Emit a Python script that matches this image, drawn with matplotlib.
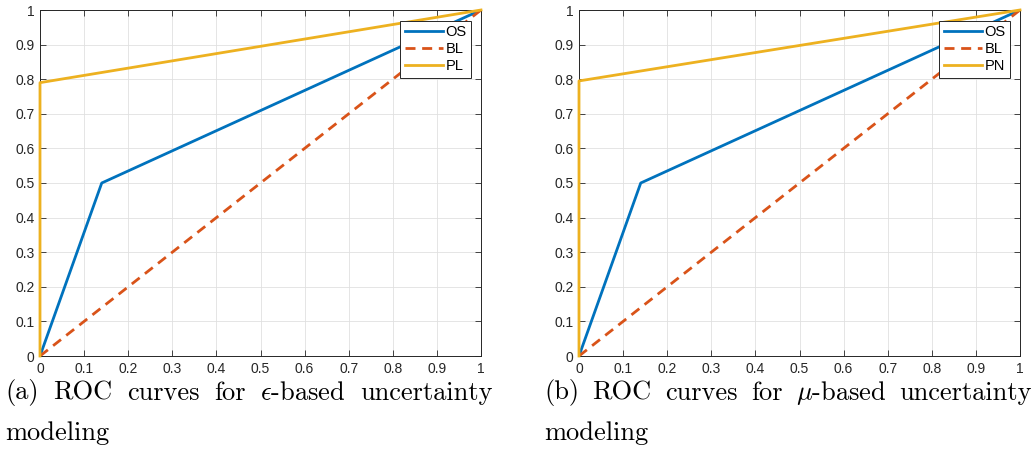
import matplotlib
matplotlib.use("Agg")
import matplotlib.pyplot as plt
import numpy as np

# ROC points
os_fpr = [0, 0.14, 1]
os_tpr = [0, 0.50, 1]
bl_fpr = [0, 1]
bl_tpr = [0, 1]
pl_fpr = [0, 0, 1]
pl_tpr = [0, 0.79, 1]
pn_fpr = [0, 0, 1]
pn_tpr = [0, 0.795, 1]

ticks = np.arange(0, 1.01, 0.1)
tick_labels = ['0', '0.1', '0.2', '0.3', '0.4', '0.5', '0.6', '0.7', '0.8', '0.9', '1']

panels = [
    (pl_fpr, pl_tpr, 'PL', ['(a)', 'ROC', 'curves', 'for', r'$\epsilon$-based', 'uncertainty'], 'modeling'),
    (pn_fpr, pn_tpr, 'PN', ['(b)', 'ROC', 'curves', 'for', r'$\mu$-based', 'uncertainty'], 'modeling'),
]

blue = '#0072BD'
orange = '#D95319'
yellow = '#EDB120'

plt.rcParams['mathtext.fontset'] = 'cm'

fig = plt.figure(figsize=(10.36, 4.5), dpi=100)
lefts = [40 / 1036, 579 / 1036]
W, H = 1036, 450
cap_size = 19


def justified(fig, words, x0, x1, y):
    # place words so the line runs from x0 to x1 (pixels), like a justified caption
    r = fig.canvas.get_renderer()
    txts = [fig.text(0, 1 - y / H, w, fontsize=cap_size, family='cmr10', va='center', ha='left')
            for w in words]
    widths = [t.get_window_extent(renderer=r).width for t in txts]
    gap = (x1 - x0 - sum(widths)) / (len(words) - 1)
    x = x0
    for t, w in zip(txts, widths):
        t.set_x(x / W)
        x += w + gap


for (fpr, tpr, name, words, cap2), left in zip(panels, lefts):
    ax = fig.add_axes([left, 1 - 356 / 450, 441 / 1036, 346 / 450])
    ax.plot(os_fpr, os_tpr, color=blue, lw=2, label='OS', zorder=3)
    ax.plot(bl_fpr, bl_tpr, color=orange, lw=2, ls=(0, (3.6, 2.4)), label='BL', zorder=3)
    ax.plot(fpr, tpr, color=yellow, lw=2, label=name, zorder=4, clip_on=False)
    ax.set_xlim(0, 1)
    ax.set_ylim(0, 1)
    ax.set_xticks(ticks)
    ax.set_yticks(ticks)
    ax.set_xticklabels(tick_labels, family='Liberation Sans', fontsize=10)
    ax.set_yticklabels(tick_labels, family='Liberation Sans', fontsize=10)
    ax.tick_params(direction='in', top=True, right=True, length=4, width=0.6,
                   colors='#262626', pad=4)
    ax.grid(True, color='#e0e0e0', lw=0.6)
    ax.set_axisbelow(True)
    for s in ax.spines.values():
        s.set_linewidth(0.7)
        s.set_color('#262626')
    leg = ax.legend(loc='upper right', bbox_to_anchor=(1 - 10 / 441, 1 - 10.5 / 346), fancybox=False,
                    framealpha=1, edgecolor='#262626', borderpad=0.3, labelspacing=0.22,
                    handlelength=2.6, handletextpad=0.2, borderaxespad=0,
                    prop={'family': 'Liberation Sans', 'size': 10.5})
    leg.get_frame().set_linewidth(0.7)
    leg.set_zorder(5)
    x0 = left * W - 35
    justified(fig, words, x0, x0 + 488, 393)
    fig.text(x0 / W, 1 - 433 / H, cap2, fontsize=cap_size, family='cmr10', va='center', ha='left')

fig.savefig('out.png', dpi=100)
